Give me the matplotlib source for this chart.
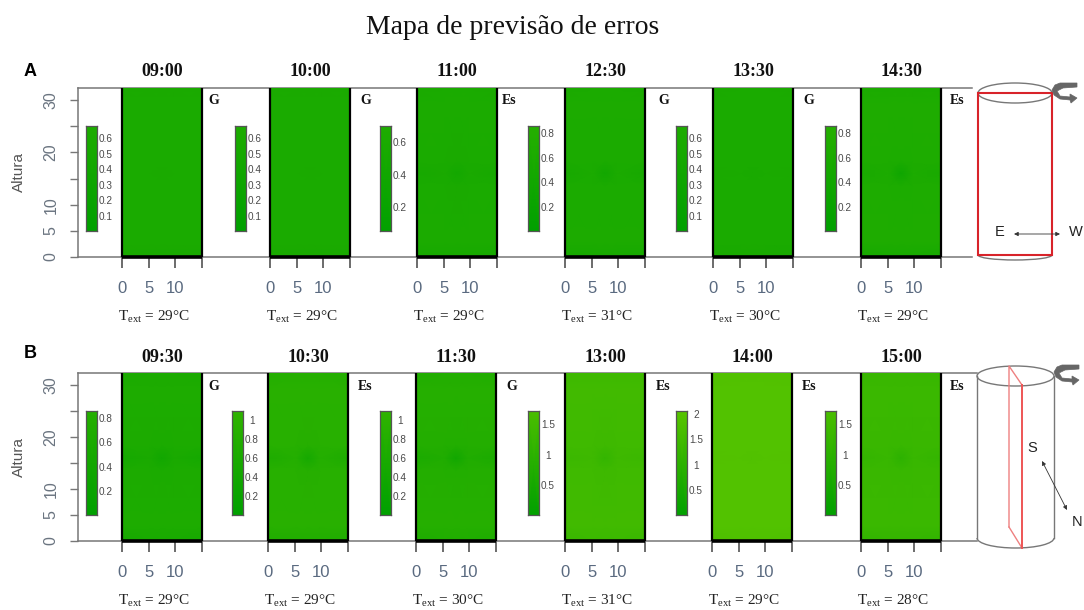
import matplotlib
matplotlib.use("Agg")
import matplotlib.pyplot as plt
import numpy as np
from matplotlib.colors import LinearSegmentedColormap
from matplotlib.patches import Arc, Polygon, Rectangle

plt.rcParams['font.family'] = ['Liberation Sans', 'DejaVu Sans']
plt.rcParams['mathtext.fontset'] = 'custom'
plt.rcParams['mathtext.rm'] = 'Liberation Serif'

W, H = 1084, 610

# ---------- data ----------
title = "Mapa de previsão de erros"
times_a = ["09:00", "10:00", "11:00", "12:30", "13:30", "14:30"]
times_b = ["09:30", "10:30", "11:30", "13:00", "14:00", "15:00"]
temps_a = [29, 29, 29, 31, 30, 29]
temps_b = [29, 29, 30, 31, 29, 28]
tags_a = ["G", "G", "Es", "G", "G", "Es"]
tags_b = ["G", "Es", "G", "Es", "Es", "Es"]
bar_min_a = [0.01, 0.01, 0.058, 0.014, 0.01, 0.014]
bar_max_a = [0.683, 0.683, 0.705, 0.865, 0.683, 0.865]
bar_min_b = [0.014, 0.013, 0.013, 0.03, 0.04, 0.03]
bar_max_b = [0.865, 1.10, 1.10, 1.726, 2.07, 1.726]
ticks_a = [[0.1, 0.2, 0.3, 0.4, 0.5, 0.6], [0.1, 0.2, 0.3, 0.4, 0.5, 0.6], [0.2, 0.4, 0.6],
           [0.2, 0.4, 0.6, 0.8], [0.1, 0.2, 0.3, 0.4, 0.5, 0.6], [0.2, 0.4, 0.6, 0.8]]
ticks_b = [[0.2, 0.4, 0.6, 0.8], [0.2, 0.4, 0.6, 0.8, 1], [0.2, 0.4, 0.6, 0.8, 1],
           [0.5, 1, 1.5], [0.5, 1, 1.5, 2], [0.5, 1, 1.5]]
x_nodes = [0, 5.2, 7.5, 9.8, 15]
y_nodes = [0, 3, 13.5, 16, 18.5, 29, 32.3]

# error grids, rows from bottom to top
A_0900 = [[.58, .58, .58, .58, .58], [.61, .61, .61, .61, .61], [.61, .61, .61, .61, .61],
          [.61, .61, .60, .61, .61], [.61, .61, .61, .61, .61], [.61, .61, .61, .61, .61], [.60, .60, .60, .60, .60]]
A_1000 = [[.58, .58, .58, .58, .58], [.61, .61, .61, .61, .61], [.61, .61, .61, .61, .61],
          [.61, .61, .60, .61, .61], [.61, .61, .61, .61, .61], [.61, .61, .61, .61, .61], [.60, .60, .60, .60, .60]]
A_1100 = [[.52, .54, .54, .54, .52], [.63, .63, .63, .63, .63], [.61, .61, .60, .61, .61],
          [.54, .60, .44, .60, .54], [.61, .61, .60, .61, .61], [.63, .63, .63, .63, .63], [.60, .61, .61, .61, .60]]
A_1230 = [[.52, .54, .54, .54, .52], [.65, .65, .65, .65, .65], [.63, .63, .62, .63, .63],
          [.54, .62, .42, .62, .54], [.63, .63, .62, .63, .63], [.65, .65, .65, .65, .65], [.60, .62, .62, .62, .60]]
A_1330 = [[.56, .58, .58, .58, .56], [.61, .61, .61, .61, .61], [.61, .61, .61, .61, .61],
          [.60, .61, .58, .61, .60], [.61, .61, .61, .61, .61], [.61, .61, .61, .61, .61], [.60, .61, .61, .61, .60]]
A_1430 = [[.52, .55, .55, .55, .52], [.70, .70, .70, .70, .70], [.68, .68, .66, .68, .68],
          [.58, .66, .34, .66, .58], [.68, .68, .66, .68, .68], [.70, .70, .70, .70, .70], [.62, .64, .64, .64, .62]]
B_0930 = [[.52, .56, .56, .56, .52], [.68, .68, .68, .68, .68], [.65, .65, .64, .65, .65],
          [.50, .60, .40, .60, .50], [.65, .65, .64, .65, .65], [.68, .68, .68, .68, .68], [.60, .62, .62, .62, .60]]
B_1030 = [[.72, .76, .76, .76, .72], [.93, .93, .93, .93, .93], [.90, .90, .88, .90, .90],
          [.70, .84, .50, .84, .70], [.90, .90, .88, .90, .90], [.93, .93, .93, .93, .93], [.82, .85, .85, .85, .82]]
B_1130 = [[.68, .72, .72, .72, .68], [.85, .85, .85, .85, .85], [.82, .82, .80, .82, .82],
          [.64, .76, .40, .76, .64], [.82, .82, .80, .82, .82], [.85, .85, .85, .85, .85], [.76, .78, .78, .78, .76]]
B_1300 = [[1.30, 1.34, 1.34, 1.34, 1.30], [1.50, 1.50, 1.50, 1.50, 1.50], [1.47, 1.47, 1.44, 1.47, 1.47],
          [1.38, 1.44, 1.18, 1.44, 1.38], [1.47, 1.47, 1.44, 1.47, 1.47], [1.50, 1.50, 1.50, 1.50, 1.50], [1.42, 1.44, 1.44, 1.44, 1.42]]
B_1400 = [[1.78, 1.82, 1.82, 1.82, 1.78], [1.92, 1.92, 1.92, 1.92, 1.92], [1.92, 1.92, 1.91, 1.92, 1.92],
          [1.90, 1.92, 1.88, 1.92, 1.90], [1.92, 1.92, 1.91, 1.92, 1.92], [1.92, 1.92, 1.92, 1.92, 1.92], [1.87, 1.89, 1.89, 1.89, 1.87]]
B_1500 = [[1.14, 1.18, 1.18, 1.18, 1.14], [1.36, 1.36, 1.36, 1.36, 1.36], [1.33, 1.33, 1.30, 1.33, 1.33],
          [1.22, 1.30, 1.02, 1.30, 1.22], [1.33, 1.33, 1.30, 1.33, 1.33], [1.36, 1.36, 1.36, 1.36, 1.36], [1.28, 1.30, 1.30, 1.30, 1.28]]
grids_a = [A_0900, A_1000, A_1100, A_1230, A_1330, A_1430]
grids_b = [B_0930, B_1030, B_1130, B_1300, B_1400, B_1500]

# ---------- layout (pixels) ----------
heat_left_a = [122, 270, 417, 565, 713, 861]
heat_left_b = [122, 268, 416, 565, 712, 861]
bar_left_a = [86, 235, 380, 528, 676, 825]
bar_left_b = [86, 232, 380, 528, 676, 825]
tag_x_a = [208, 360, 502, 658, 803, 950]
tag_x_b = [208, 358, 506, 656, 802, 950]

VMAX = 2.05
cmap = LinearSegmentedColormap.from_list("err", [(0, 160/255, 0), (88/255, 196/255, 0)])
TICKC = "#5a6a80"

fig = plt.figure(figsize=(W/100, H/100), dpi=100, facecolor="white")


def pax(x0, y0, x1, y1, **kw):
    return fig.add_axes([x0/W, 1 - y1/H, (x1-x0)/W, (y1-y0)/H], **kw)


def panel(letter, top, bottom, frame_right, lefts, bar_lefts, tag_xs, times, temps, tags, bar_min, bar_max, ticks, grids):
    frame = pax(78, top, frame_right, bottom)
    frame.set_xlim(0, 1)
    frame.set_ylim(0, 32.3)
    frame.patch.set_alpha(0)
    frame.spines['right'].set_visible(False)
    for s in ('left', 'top', 'bottom'):
        frame.spines[s].set_color("#777777")
        frame.spines[s].set_linewidth(1.1)
    frame.set_xticks([])
    frame.set_yticks([0, 5, 10, 15, 20, 25, 30])
    frame.set_yticklabels(["0", "5", "10", "", "20", "", "30"], rotation=90, va='center',
                          fontsize=11.5, color="#6a7480")
    frame.tick_params(axis='y', length=6, width=1, color="#777777", pad=8)
    frame.set_ylabel("Altura", fontsize=11, color="#555555", labelpad=13)

    px_per = (bottom - (top + 12)) / 30
    y5 = bottom - 5 * px_per
    y25 = bottom - 25 * px_per
    for i in range(6):
        ax = pax(lefts[i], top, lefts[i] + 80, bottom)
        ax.pcolormesh(x_nodes, y_nodes, np.array(grids[i]), shading='gouraud', cmap=cmap, vmin=0, vmax=VMAX)
        ax.set_xlim(0, 15)
        ax.set_ylim(0, 32.3)
        ax.set_yticks([])
        ax.set_xticks([0, 5, 10, 15])
        ax.set_xticklabels(["0", "5", "10", ""], fontsize=12, color=TICKC)
        ax.tick_params(axis='x', length=8, width=1.1, color="#444444", pad=9)
        for s in ax.spines.values():
            s.set_color("black")
            s.set_linewidth(1.6)
            s.set_capstyle('butt')
        ax.spines['top'].set_visible(False)
        ax.spines['bottom'].set_linewidth(2.6)

        cb = pax(bar_lefts[i], y25, bar_lefts[i] + 11, y5)
        levels = np.array([[bar_min[i]], [bar_max[i]]])
        cb.pcolormesh([0, 1], [bar_min[i], bar_max[i]], np.hstack([levels, levels]), shading='gouraud',
                      cmap=cmap, vmin=0, vmax=VMAX)
        cb.set_xlim(0, 1)
        cb.set_ylim(bar_min[i], bar_max[i])
        cb.set_xticks([])
        cb.set_yticks([])
        for s in cb.spines.values():
            s.set_color("#555555")
            s.set_linewidth(0.9)
        for t in ticks[i]:
            cb.annotate(f"{t:g}", xy=(1, t), xycoords=('axes fraction', 'data'),
                        xytext=(9, 0), textcoords='offset pixels',
                        ha='center', va='center', fontsize=7.2, color="#4a4a4a")

        cx = lefts[i] + 40
        fig.text(cx/W, 1 - (top - 16)/H, times[i], ha='center', va='center', fontsize=13,
                 fontweight='bold', family='Liberation Serif', color="#111111")
        fig.text((cx - 8)/W, 1 - (bottom + 60)/H, rf"T$_{{\mathrm{{ext}}}}$ = {temps[i]}°C",
                 ha='center', va='center', fontsize=11, family='Liberation Serif', color="#222222")
        fig.text(tag_xs[i]/W, 1 - (top + 13)/H, tags[i], ha='left', va='center', fontsize=10,
                 fontweight='bold', family='Liberation Serif', color="#111111")
    fig.text(30/W, 1 - (top - 16 - (4 if letter == "B" else 0))/H, letter, ha='center', va='center',
             fontsize=13, fontweight='bold', color="black")


panel("A", 88, 257, 972, heat_left_a, bar_left_a, tag_x_a, times_a, temps_a, tags_a, bar_min_a, bar_max_a, ticks_a, grids_a)
panel("B", 373, 541, 977, heat_left_b, bar_left_b, tag_x_b, times_b, temps_b, tags_b, bar_min_b, bar_max_b, ticks_b, grids_b)

fig.text(513/W, 1 - 27/H, title, ha='center', va='center', fontsize=20, family='Liberation Serif', color="#111111")

# ---------- schematic cylinders (pixel overlay) ----------
ov = fig.add_axes([0, 0, 1, 1])
ov.set_xlim(0, W)
ov.set_ylim(H, 0)
ov.axis('off')
ov.patch.set_alpha(0)
OUT = "#777777"
RED = "#d8232a"


def curved_arrow(x, y):
    verts = [(x, y - 2), (x + 3, y - 7), (x + 8, y - 9), (x + 25, y - 9), (x + 25, y - 5),
             (x + 11, y - 4), (x + 5, y - 1), (x + 8, y + 4), (x + 18, y + 5), (x + 18, y + 2),
             (x + 25, y + 6), (x + 19, y + 11), (x + 18, y + 8), (x + 8, y + 7), (x + 2, y + 3)]
    ov.add_patch(Polygon(verts, closed=True, fc="#666666", ec="#666666", lw=0.5))


# A: E-W section
ov.add_patch(Arc((1015, 93), 74, 20, theta1=0, theta2=360, ec=OUT, lw=1))
ov.add_patch(Arc((1015, 255), 74, 10, theta1=0, theta2=180, ec=OUT, lw=1))
ov.add_patch(Rectangle((978, 93), 74, 162, fc='none', ec=RED, lw=1.5))
curved_arrow(1052, 92)
ov.text(1000, 232, "E", ha='center', va='center', fontsize=10.5, color="#222222")
ov.text(1076, 232, "W", ha='center', va='center', fontsize=10.5, color="#222222")
ov.annotate("", xy=(1060, 234), xytext=(1014, 234),
            arrowprops=dict(arrowstyle='<|-|>', color="#333333", lw=0.6, mutation_scale=6, shrinkA=0, shrinkB=0))

# B: S-N section
ov.add_patch(Arc((1015.5, 376), 77, 20, theta1=0, theta2=360, ec=OUT, lw=1))
ov.add_patch(Arc((1015.5, 538), 77, 20, theta1=0, theta2=180, ec=OUT, lw=1))
ov.plot([977, 977], [376, 538], color=OUT, lw=1)
ov.plot([1054, 1054], [376, 538], color=OUT, lw=1)
ov.plot([1009, 1009, 1022], [527, 366, 385], color="#ee8080", lw=1)
ov.plot([1009, 1022], [527, 548], color="#ee8080", lw=1)
ov.plot([1022, 1022], [385, 548], color="#ee5555", lw=1.4)
curved_arrow(1054, 374)
ov.text(1032, 448, "S", ha='center', va='center', fontsize=10.5, color="#222222")
ov.text(1077, 522, "N", ha='center', va='center', fontsize=10.5, color="#222222")
ov.annotate("", xy=(1042, 461), xytext=(1067, 510),
            arrowprops=dict(arrowstyle='<|-|>', color="#333333", lw=0.6, mutation_scale=6, shrinkA=0, shrinkB=0))

fig.savefig("out.png", dpi=100)
